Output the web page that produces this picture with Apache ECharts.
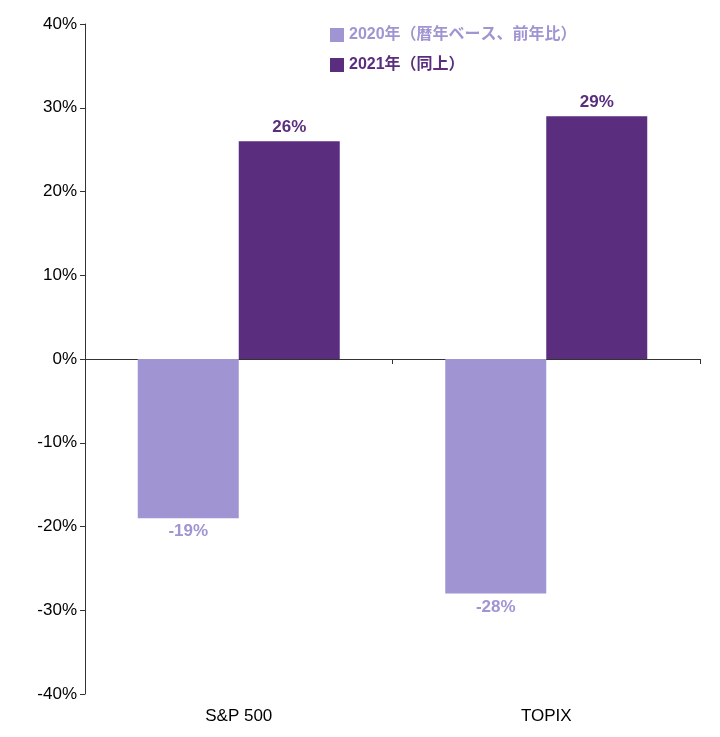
<!DOCTYPE html>
<html><head><meta charset="utf-8">
<script src="https://cdn.jsdelivr.net/npm/echarts@6/dist/echarts.min.js"></script>
<style>html,body{margin:0;background:#fff}#c{width:720px;height:737px}</style>
</head><body><div id="c"></div>
<script>
var categories = ['S&P 500', 'TOPIX'];
var names = ['2020年（暦年ベース、前年比）', '2021年（同上）'];
var v2020 = [-19, -28];
var v2021 = [26, 29];
var colors = ['#a094d3', '#5a2d7e'];

var chart = echarts.init(document.getElementById('c'));
var font = 'Liberation Sans, Arial, Noto Sans CJK JP, sans-serif';
function lbl(c, pos) {
	return { show: true, position: pos, color: c, fontWeight: 'bold', fontSize: 17, fontFamily: font,
		formatter: function (p) { return p.value + '%'; } };
}
chart.setOption({
	animation: false,
	grid: { left: 85, right: 20, top: 24, bottom: 43 },
	legend: {
		orient: 'vertical', left: 325, top: 22, itemWidth: 14, itemHeight: 14, itemGap: 14,
		icon: 'rect',
		textStyle: { fontSize: 16, fontWeight: 'bold', fontFamily: font, color: '#a094d3' },
		formatter: function (n) { return n; },
		data: [{ name: names[0], textStyle: { color: colors[0] } }, { name: names[1], textStyle: { color: colors[1] } }]
	},
	xAxis: [{
		type: 'category', data: categories,
		axisLine: { onZero: true, lineStyle: { color: '#333' } },
		axisTick: { show: true, length: 5, lineStyle: { color: '#333' } },
		axisLabel: { show: false }
	}, {
		type: 'category', data: categories, position: 'bottom',
		axisLine: { show: false }, axisTick: { show: false },
		axisLabel: { color: '#000', fontSize: 17, fontFamily: font, margin: 14 }
	}],
	yAxis: {
		type: 'value', min: -40, max: 40, interval: 10,
		splitLine: { show: false },
		axisLine: { show: true, lineStyle: { color: '#333' } },
		axisTick: { show: true, length: 5, inside: false, lineStyle: { color: '#333' } },
		axisLabel: { color: '#000', fontSize: 17, fontFamily: font, formatter: '{value}%' }
	},
	series: [
		{ name: names[0], type: 'bar', data: v2020, barWidth: 101, barGap: '0%', itemStyle: { color: colors[0] }, label: lbl(colors[0], 'bottom') },
		{ name: names[1], type: 'bar', data: v2021, barWidth: 101, itemStyle: { color: colors[1] }, label: lbl(colors[1], 'top') }
	]
});
</script></body></html>
